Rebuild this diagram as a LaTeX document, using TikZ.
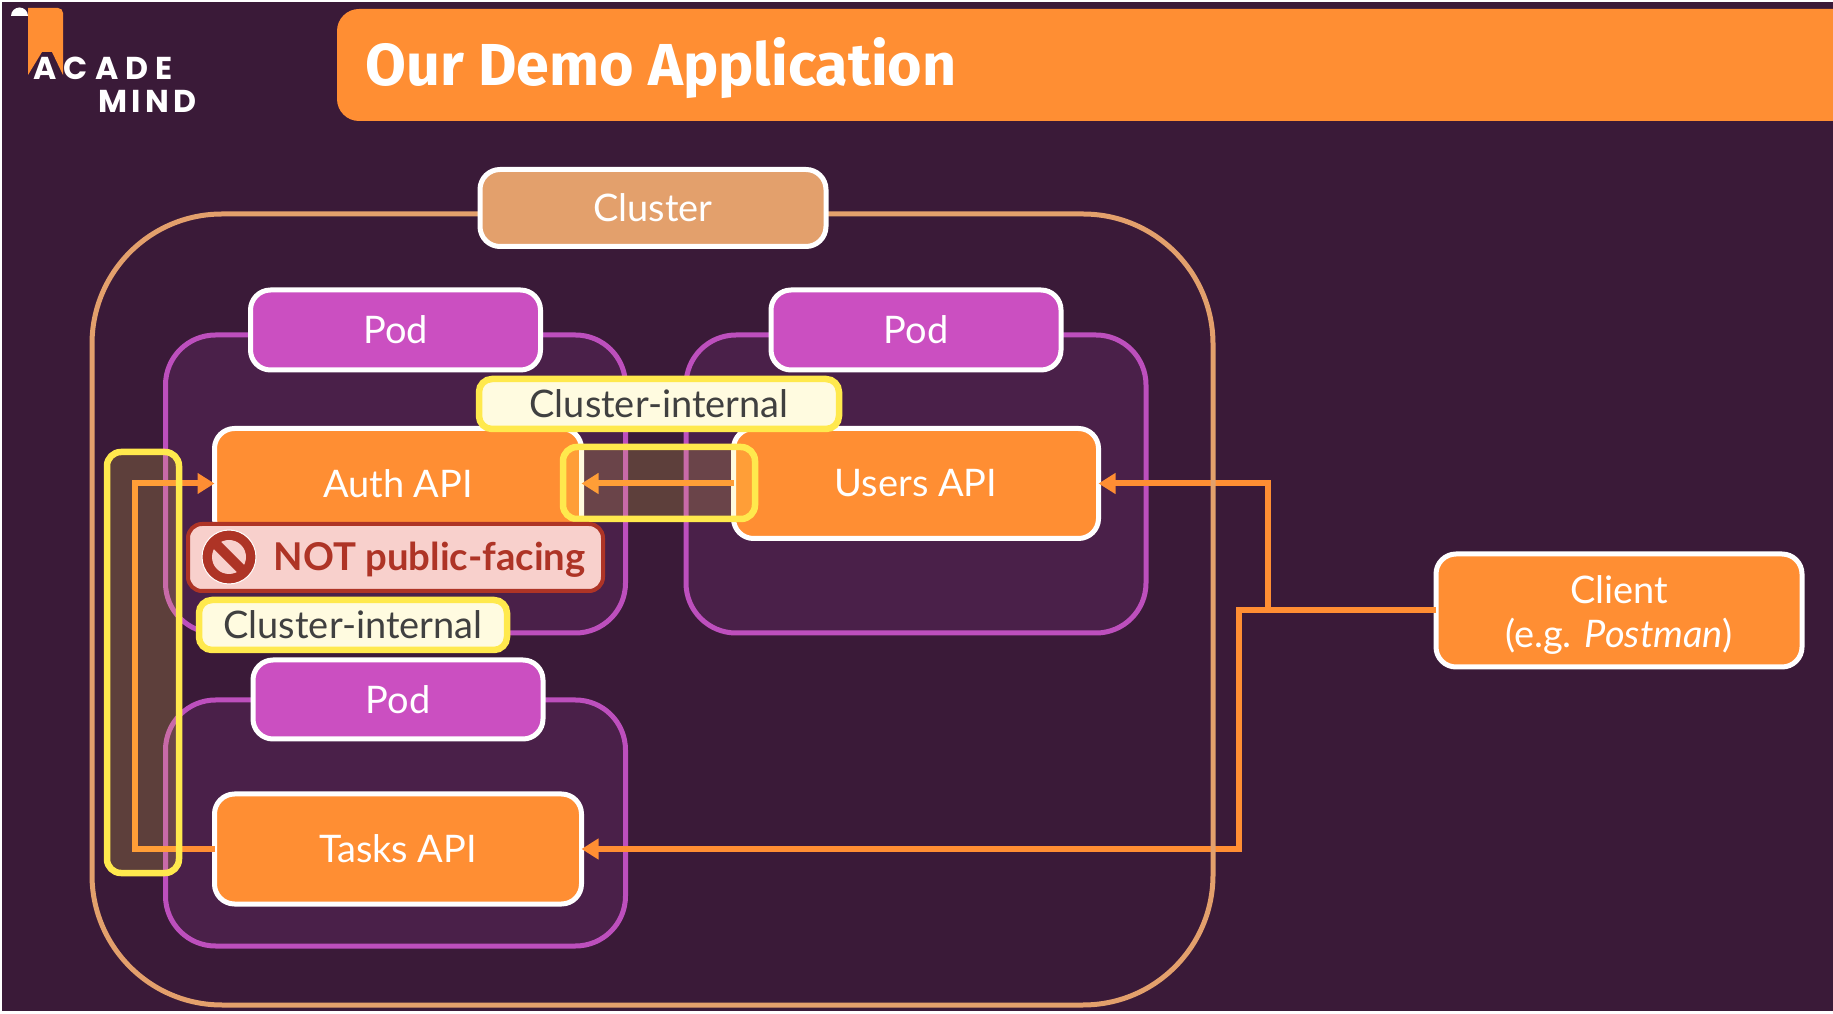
\documentclass[tikz,border=0pt]{standalone}
\usepackage{fontspec}
\setmainfont{Lato}
\newfontfamily\titlefont{Fira Sans}
\newfontfamily\logofont[LetterSpace=22]{Poppins}
\newfontfamily\logofontb[LetterSpace=13]{Poppins}
\usetikzlibrary{arrows.meta}

\definecolor{bgdark}{HTML}{3A1A38}
\definecolor{mainorange}{HTML}{FF8E33}
\definecolor{clustertan}{HTML}{E3A06C}
\definecolor{podfill}{HTML}{4A2049}
\definecolor{podline}{HTML}{BD4FBD}
\definecolor{podlabel}{HTML}{CB4FC1}
\definecolor{noteyellow}{HTML}{FFE94D}
\definecolor{notefill}{HTML}{FFFBE0}
\definecolor{stopred}{HTML}{AE3426}
\definecolor{stopfill}{HTML}{F8D0CC}

\tikzset{
    basebox/.style={rectangle, rounded corners=0.2cm, outer sep=0pt, inner sep=0pt, align=center,
        line width=0.05cm, draw=white, text=white, font=\fontsize{10.8}{12.6}\selectfont},
    apibox/.style={basebox, fill=mainorange},
    podtag/.style={basebox, fill=podlabel},
    clustertag/.style={basebox, fill=clustertan},
    podarea/.style={rectangle, rounded corners=0.5cm, outer sep=0pt, line width=0.05cm, draw=podline, fill=podfill},
    notebox/.style={basebox, rounded corners=0.13cm, line width=0.065cm, draw=noteyellow, fill=notefill, text=black!75},
    glowbox/.style={rectangle, rounded corners=0.14cm, outer sep=0pt, line width=0.065cm, draw=noteyellow,
        fill=noteyellow, fill opacity=0.18},
    link/.style={line width=0.06cm, draw=mainorange},
    linktip/.style={link, -{Triangle[length=0.17cm,width=0.2cm]}}
}

\begin{document}
\begin{tikzpicture}
    \useasboundingbox (0,0) rectangle (18.33,10.13);

    % background
    \fill[white] (0,0) rectangle (18.33,10.13);
    \fill[bgdark] (0.02,0.02) rectangle (18.33,10.11);

    % title bar
    \fill[mainorange] (18.33,10.04) [rounded corners=0.22cm] -- (3.37,10.04) -- (3.37,8.92)
        [sharp corners] -- (18.33,8.92) -- cycle;
    \node[anchor=west, inner sep=0pt, text=white, font=\fontsize{16.85}{20}\titlefont\bfseries] (title) at (3.65,9.45) {Our Demo Application};

    % logo
    \fill[white] (0.11,9.97) arc (180:0:0.085) -- cycle;
    \fill[mainorange] (0.28,10.05) -- (0.58,10.05) [rounded corners=0.05cm] -- (0.63,10.05) [sharp corners] -- (0.63,9.38)
        -- (0.52,9.61) -- (0.42,9.61) -- (0.28,9.38) -- cycle;
    \node[anchor=west, inner sep=0pt, text=white, font=\fontsize{9}{10}\logofont\bfseries] (logoacade) at (0.33,9.45) {ACADE};
    \node[anchor=west, inner sep=0pt, text=white, font=\fontsize{9}{10}\logofontb\bfseries] (logomind) at (0.98,9.12) {MIND};

    % pods
    \node[podarea, minimum width=4.60cm, minimum height=2.98cm] (authpod) at (3.955,5.29) {};
    \node[podarea, minimum width=4.60cm, minimum height=2.98cm] (userspod) at (9.16,5.29) {};
    \node[podarea, minimum width=4.60cm, minimum height=2.46cm] (taskspod) at (3.955,1.90) {};

    % api boxes
    \node[apibox, minimum width=3.67cm, minimum height=1.10cm] (authapi) at (3.98,5.295) {Auth API};
    \node[apibox, minimum width=3.65cm, minimum height=1.10cm] (usersapi) at (9.16,5.295) {Users API};
    \node[apibox, minimum width=3.67cm, minimum height=1.10cm] (tasksapi) at (3.98,1.64) {Tasks API};
    \node[apibox, minimum width=3.66cm, minimum height=1.13cm] (client) at (16.19,4.025) {};
    \node[basebox, draw=none] (clienttext) at (16.19,3.98) {Client\\(e.g. \textit{Postman})};

    % connections
    \coordinate (leftbus) at (1.35,3.5);
    \coordinate (tasksbus) at (12.39,4.025);
    \coordinate (usersbus) at (12.68,4.025);
    \draw[linktip] (tasksapi.west) -- (tasksapi.west -| leftbus) -- (authapi.west -| leftbus) -- (authapi.west);
    \draw[linktip] (usersapi.west) -- (authapi.east);
    \draw[linktip] (client.west) -- (tasksbus) |- (tasksapi.east);
    \draw[linktip] (usersbus) |- (usersapi.east);

    % cluster
    \draw[line width=0.05cm, draw=clustertan, rounded corners=1.3cm] (0.92,0.08) rectangle (12.13,7.99);
    \node[clustertag, minimum width=3.46cm, minimum height=0.77cm] (clustertag) at (6.53,8.05) {Cluster};

    % pod labels
    \node[podtag, minimum width=2.90cm, minimum height=0.80cm] (authtag) at (3.955,6.83) {Pod};
    \node[podtag, minimum width=2.90cm, minimum height=0.80cm] (userstag) at (9.16,6.83) {Pod};
    \node[podtag, minimum width=2.90cm, minimum height=0.79cm] (taskstag) at (3.98,3.135) {Pod};

    % highlights
    \node[glowbox, minimum width=0.72cm, minimum height=4.21cm] (leftglow) at (1.43,3.505) {};
    \node[glowbox, minimum width=1.92cm, minimum height=0.72cm] (midglow) at (6.59,5.30) {};

    % internal notes
    \node[notebox, minimum width=3.60cm, minimum height=0.50cm] (midnote) at (6.59,6.09) {Cluster-internal};
    \node[notebox, minimum width=3.08cm, minimum height=0.50cm] (leftnote) at (3.53,3.88) {Cluster-internal};

    % warning
    \node[basebox, rounded corners=0.14cm, line width=0.04cm, draw=stopred, fill=stopfill, minimum width=4.15cm, minimum height=0.67cm] (warnbox) at (3.955,4.555) {};
    \node[inner sep=0pt, text=stopred, font=\fontsize{10.9}{14}\selectfont\bfseries] (warntext) at (4.295,4.53) {NOT public-facing};
    \node[circle, inner sep=0pt, minimum size=0.54cm, draw=white, line width=0.01cm, fill=stopred] (stopicon) at (2.29,4.56) {};
    \node[circle, inner sep=0pt, minimum size=0.34cm, fill=stopfill] (stopinner) at (stopicon.center) {};
    \draw[line width=0.1cm, draw=stopred] (stopinner.135) -- (stopinner.-45);
\end{tikzpicture}
\end{document}
